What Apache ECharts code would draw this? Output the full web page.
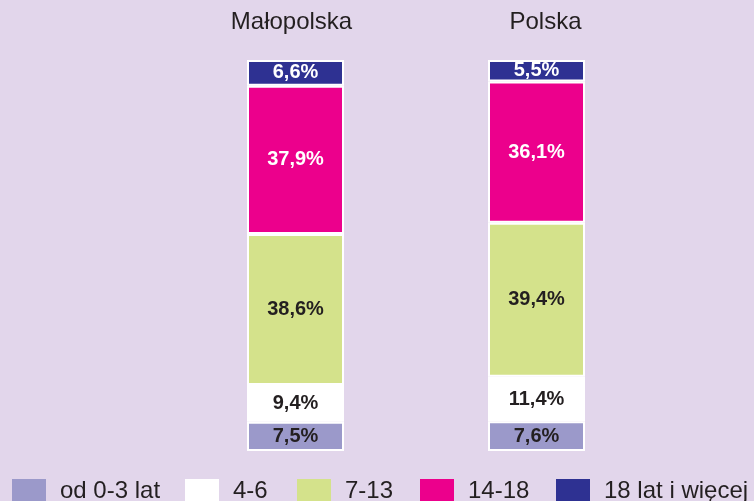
<!DOCTYPE html>
<html>
<head>
<meta charset="utf-8">
<script src="https://cdn.jsdelivr.net/npm/echarts@6/dist/echarts.min.js"></script>
<style>
  html, body { margin: 0; padding: 0; background: #e2d6eb; }
  #chart { width: 754px; height: 501px; }
</style>
</head>
<body>
<div id="chart"></div>
<script>
// regiony
var categories = ['Małopolska', 'Polska']
// grupy wiekowe, od dołu słupka
var groups = ['od 0-3 lat', '4-6', '7-13', '14-18', '18 lat i więcej']
var val0_3 = [7.5, 7.6]
var val4_6 = [9.4, 11.4]
var val7_13 = [38.6, 39.4]
var val14_18 = [37.9, 36.1]
var val18plus = [6.6, 5.5]

var colors = ['#9b99ca', '#ffffff', '#d4e28b', '#ec008c', '#2e3192']
var labelColors = ['#231f20', '#231f20', '#231f20', '#ffffff', '#ffffff']
var legendLeft = [12, 185, 297, 420, 556]

var values = [val0_3, val4_6, val7_13, val14_18, val18plus]

var series = []
var legends = []
for (var i = 0; i < groups.length; i++) {
  series.push({
    name: groups[i],
    type: 'bar',
    stack: 'all',
    barWidth: 97,
    data: values[i],
    itemStyle: {
      color: colors[i],
      borderColor: '#ffffff',
      borderWidth: 2
    },
    label: {
      show: true,
      position: 'inside',
      color: labelColors[i],
      fontFamily: 'Liberation Sans, Arial, sans-serif',
      fontWeight: 'bold',
      fontSize: 20,
      formatter: function (p) {
        return String(p.value).replace('.', ',') + '%'
      }
    }
  })
  legends.push({
    data: [groups[i]],
    left: legendLeft[i],
    top: 479,
    padding: 0,
    itemWidth: 34,
    itemHeight: 24,
    icon: 'rect',
    selectedMode: false,
    itemStyle: { borderWidth: 0 },
    textStyle: {
      fontFamily: 'Liberation Sans, Arial, sans-serif',
      fontSize: 24,
      color: '#231f20',
      padding: [0, 0, 0, 9]
    }
  })
}

var myChart = echarts.init(document.getElementById('chart'))
var option = {
  backgroundColor: '#e2d6eb',
  animation: false,
  color: colors,
  legend: legends,
  grid: {
    left: 175,
    right: 97,
    top: 60,
    bottom: 50
  },
  xAxis: {
    type: 'category',
    position: 'top',
    data: categories,
    axisLine: { show: false },
    axisTick: { show: false },
    axisLabel: {
      margin: 26,
      fontSize: 24,
      fontFamily: 'Liberation Sans, Arial, sans-serif',
      color: '#231f20',
      formatter: function (v, idx) {
        return idx === 0 ? '{a|' + v + '}' : '{b|' + v + '}'
      },
      rich: {
        a: { fontSize: 24, color: '#231f20', padding: [0, 8, 0, 0] },
        b: { fontSize: 24, color: '#231f20', padding: [0, 0, 0, 18] }
      }
    }
  },
  yAxis: {
    type: 'value',
    min: 0,
    max: 100,
    show: false
  },
  series: series
}
myChart.setOption(option)
</script>
</body>
</html>
